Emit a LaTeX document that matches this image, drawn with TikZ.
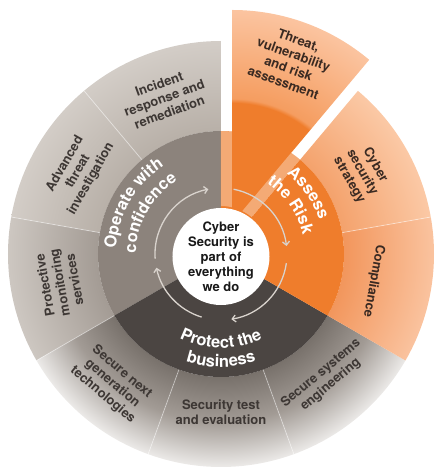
\documentclass[tikz,border=0pt]{standalone}
\usepackage{fontspec}
\setmainfont{TeX Gyre Heros}
\usetikzlibrary{arrows.meta,decorations.text}

\definecolor{opgray}{HTML}{8C837C}
\definecolor{prgray}{HTML}{4B4542}
\definecolor{asorange}{HTML}{EF7D2C}
\definecolor{gt1}{HTML}{B8B0A8}
\definecolor{gt2}{HTML}{D3CDC7}
\definecolor{gm1}{HTML}{A39B94}
\definecolor{gm2}{HTML}{CDC7C1}
\definecolor{gb1}{HTML}{78716B}
\definecolor{gbm}{HTML}{A29B95}
\definecolor{gb2}{HTML}{ECEAE8}
\definecolor{co1}{HTML}{F2965C}
\definecolor{co2}{HTML}{FAC39F}
\definecolor{cy1}{HTML}{F4A26C}
\definecolor{cy2}{HTML}{FBC9A6}
\definecolor{th1}{HTML}{F59D60}
\definecolor{th2}{HTML}{FBC4A0}
\definecolor{arrowgray}{HTML}{D9D3CD}
\definecolor{labelgray}{HTML}{3D3734}
\definecolor{labelbrown}{HTML}{3A2A22}

\pgfdeclareradialshading{segtop}{\pgfpointorigin}{color(0bp)=(gt1); color(14.4bp)=(gt1); color(25bp)=(gt2); color(50bp)=(gt2)}
\pgfdeclareradialshading{segmid}{\pgfpointorigin}{color(0bp)=(gm1); color(14.4bp)=(gm1); color(25bp)=(gm2); color(50bp)=(gm2)}
\pgfdeclareradialshading{segbot}{\pgfpointorigin}{color(0bp)=(gb1); color(14.4bp)=(gb1); color(19.7bp)=(gbm); color(25bp)=(gb2); color(50bp)=(gb2)}
\pgfdeclareradialshading{segcompl}{\pgfpointorigin}{color(0bp)=(co1); color(14.4bp)=(co1); color(25bp)=(co2); color(50bp)=(co2)}
\pgfdeclareradialshading{segcyber}{\pgfpointorigin}{color(0bp)=(cy1); color(14.4bp)=(cy1); color(25bp)=(cy2); color(50bp)=(cy2)}
\pgfdeclareradialshading{segthreat}{\pgfpointorigin}{color(0bp)=(asorange); color(14.1bp)=(asorange); color(14.6bp)=(th1); color(25bp)=(th2); color(50bp)=(th2)}

\newcommand\ringfont{\bfseries\fontsize{16.5}{18}\selectfont}

\begin{document}
\begin{tikzpicture}[
  seglabel/.style={align=center, inner sep=0pt, text=labelgray, font=\bfseries\fontsize{13}{15}\selectfont},
  orangelabel/.style={seglabel, text=labelbrown},
  cyclearrow/.style={arrowgray, line width=1.3pt, -{Straight Barb[length=3.5pt,width=7pt]}},
  ringtext/.style={decorate, decoration={text along path, text align=center, text color=white}},
  divider/.style={white, opacity=.45, line width=.8pt}
]
\useasboundingbox (-221pt,-217pt) rectangle (219pt,254pt);

\begin{scope}\clip (90:123pt) arc (90:130:123pt) -- (130:213pt) arc (130:90:213pt) -- cycle; \shade[shading=segtop] (0,0) circle (213pt); \end{scope}
\begin{scope}\clip (130:123pt) arc (130:170:123pt) -- (170:213pt) arc (170:130:213pt) -- cycle; \shade[shading=segtop] (0,0) circle (213pt); \end{scope}
\begin{scope}\clip (170:123pt) arc (170:210:123pt) -- (210:213pt) arc (210:170:213pt) -- cycle; \shade[shading=segmid] (0,0) circle (213pt); \end{scope}
\begin{scope}\clip (210:123pt) arc (210:250:123pt) -- (250:213pt) arc (250:210:213pt) -- cycle; \shade[shading=segbot] (0,0) circle (213pt); \end{scope}
\begin{scope}\clip (250:123pt) arc (250:290:123pt) -- (290:213pt) arc (290:250:213pt) -- cycle; \shade[shading=segbot] (0,0) circle (213pt); \end{scope}
\begin{scope}\clip (290:123pt) arc (290:330:123pt) -- (330:213pt) arc (330:290:213pt) -- cycle; \shade[shading=segbot] (0,0) circle (213pt); \end{scope}
\begin{scope}\clip (-30:123pt) arc (-30:10:123pt) -- (10:213pt) arc (10:-30:213pt) -- cycle; \shade[shading=segcompl] (0,0) circle (213pt); \end{scope}
\begin{scope}\clip (10:123pt) arc (10:50:123pt) -- (50:213pt) arc (50:10:213pt) -- cycle; \shade[shading=segcyber] (0,0) circle (213pt); \end{scope}

\begin{scope}[shift={(70:33pt)}]
\begin{scope}\clip (0,0) -- (50:213pt) arc (50:90:213pt) -- cycle; \shade[shading=segthreat] (0,0) circle (213pt); \end{scope}
\node[orangelabel, rotate=-20] (threat) at (70:172pt) {Threat,\\vulnerability\\and risk\\assessment};
\end{scope}

\draw[divider] (130:123pt) -- (130:213pt);
\draw[divider] (170:123pt) -- (170:213pt);
\draw[divider] (210:123pt) -- (210:213pt);
\draw[divider] (250:123pt) -- (250:213pt);
\draw[divider] (290:123pt) -- (290:213pt);
\draw[divider] (10:123pt) -- (10:213pt);

\fill[opgray] (0,0) -- (90:123pt) arc (90:210:123pt) -- cycle;
\fill[prgray] (0,0) -- (210:123pt) arc (210:330:123pt) -- cycle;
\fill[asorange] (0,0) -- (-30:123pt) arc (-30:90:123pt) -- cycle;

\begin{scope}
\clip (50:48pt) -- (50:123pt) arc (50:90:123pt) -- (90:48pt) arc (90:50:48pt) -- cycle;
\fill[white, opacity=.35] (0,0) rectangle (11.3pt,130pt);
\fill[white, opacity=.35] (0,0) -- (50:140pt) -- ([shift={(140:11.3pt)}]50:140pt) -- (140:11.3pt) -- cycle;
\end{scope}

\draw[cyclearrow] (253:66pt) arc (253:192:66pt);
\draw[cyclearrow] (184:66pt) arc (184:101:66pt);
\draw[cyclearrow] (79:66pt) arc (79:7:66pt);
\draw[cyclearrow] (-8:66pt) arc (-8:-81:66pt);

\node[circle, fill=white, minimum size=97pt, inner sep=0pt, align=center, text=black!90, font=\bfseries\fontsize{13}{15}\selectfont] (core) at (0,-2.5pt) {Cyber\\Security is\\part of\\everything\\we do};

\path[ringtext, decoration={text={|\ringfont|Operate with}}] (200:105pt) arc (200:100:105pt);
\path[ringtext, decoration={text={|\ringfont|confidence}}] (200:85pt) arc (200:100:85pt);
\path[ringtext, decoration={text={|\ringfont|Assess}}] (85:104pt) arc (85:-15:104pt);
\path[ringtext, decoration={text={|\ringfont|the Risk}}] (85:84pt) arc (85:-15:84pt);
\path[ringtext, decoration={text={|\ringfont|Protect the}}] (220:94pt) arc (220:320:94pt);
\path[ringtext, decoration={text={|\ringfont|business}}] (220:113pt) arc (220:320:113pt);

\node[seglabel, rotate=20] (incident) at (110:166pt) {Incident\\response and\\remediation};
\node[seglabel, rotate=60] (advanced) at (150:165pt) {Advanced\\threat\\investigation};
\node[seglabel, rotate=100] (protective) at (190:164pt) {Protective\\monitoring\\services};
\node[seglabel, rotate=-40] (nextgen) at (230:169pt) {Secure next\\generation\\technologies};
\node[seglabel] (testeval) at (270:158pt) {Security test\\and evaluation};
\node[seglabel, rotate=40] (sysengineering) at (310:163pt) {Secure systems\\engineering};
\node[orangelabel, rotate=-60] (strategy) at (30:163pt) {Cyber\\security\\strategy};
\node[orangelabel, rotate=-100] (compliance) at (-10:155pt) {Compliance};
\end{tikzpicture}
\end{document}
